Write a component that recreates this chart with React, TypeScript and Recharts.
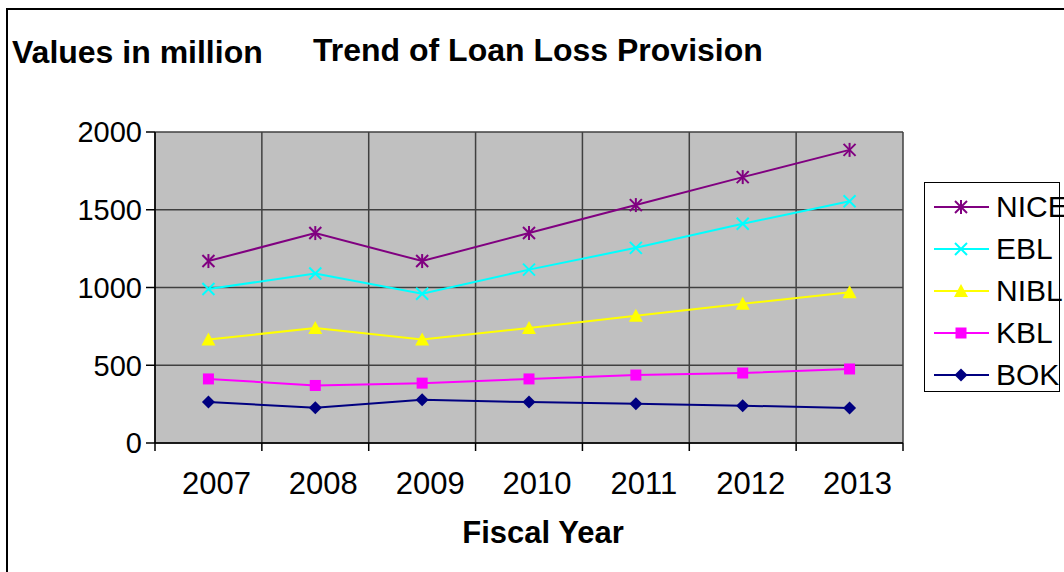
import React from 'react';
import { LineChart, Line, XAxis, YAxis, CartesianGrid, Legend } from 'recharts';

const years = ['2007', '2008', '2009', '2010', '2011', '2012', '2013'];
const nice = [1170, 1350, 1170, 1350, 1530, 1710, 1885];
const ebl = [990, 1090, 960, 1115, 1255, 1410, 1555];
const nibl = [665, 740, 665, 740, 818, 895, 970];
const kbl = [412, 370, 385, 412, 437, 450, 476];
const bok = [263, 227, 278, 263, 252, 240, 225];
const yTicks = [0, 500, 1000, 1500, 2000];

const FONT = '"Liberation Sans", Arial, sans-serif';

// x sits in the middle of each category slot, so grid lines fall on slot edges
const data = years.map((y, i) => ({
  x: i + 0.5,
  year: y,
  NICE: nice[i],
  EBL: ebl[i],
  NIBL: nibl[i],
  KBL: kbl[i],
  BOK: bok[i],
}));
const edgeTicks = years.map((_, i) => i).concat(years.length);
const midTicks = years.map((_, i) => i + 0.5);

type Shape = 'star' | 'x' | 'triangle' | 'square' | 'diamond';

const series: { key: string; color: string; shape: Shape }[] = [
  { key: 'NICE', color: '#800080', shape: 'star' },
  { key: 'EBL', color: '#00FFFF', shape: 'x' },
  { key: 'NIBL', color: '#FFFF00', shape: 'triangle' },
  { key: 'KBL', color: '#FF00FF', shape: 'square' },
  { key: 'BOK', color: '#000080', shape: 'diamond' },
];

const Marker = ({ cx, cy, color, shape }: { cx: number; cy: number; color: string; shape: Shape }) => {
  const r = 6;
  if (shape === 'star') {
    return (
      <g stroke={color} strokeWidth={2}>
        <line x1={cx - r} y1={cy - r} x2={cx + r} y2={cy + r} />
        <line x1={cx - r} y1={cy + r} x2={cx + r} y2={cy - r} />
        <line x1={cx} y1={cy - r - 1} x2={cx} y2={cy + r + 1} />
      </g>
    );
  }
  if (shape === 'x') {
    return (
      <g stroke={color} strokeWidth={2}>
        <line x1={cx - r} y1={cy - r} x2={cx + r} y2={cy + r} />
        <line x1={cx - r} y1={cy + r} x2={cx + r} y2={cy - r} />
      </g>
    );
  }
  if (shape === 'triangle') {
    return <polygon points={`${cx},${cy - 7} ${cx + 7},${cy + 6} ${cx - 7},${cy + 6}`} fill={color} />;
  }
  if (shape === 'square') {
    return <rect x={cx - 5.5} y={cy - 5.5} width={11} height={11} fill={color} />;
  }
  return <polygon points={`${cx},${cy - 6.5} ${cx + 6.5},${cy} ${cx},${cy + 6.5} ${cx - 6.5},${cy}`} fill={color} />;
};

const LegendBox = () => (
  <div
    style={{
      width: 136,
      height: 210,
      border: '1px solid #000',
      background: '#fff',
      boxSizing: 'border-box',
      paddingTop: 3,
    }}
  >
    {series.map((s) => (
      <div key={s.key} style={{ height: 42, display: 'flex', alignItems: 'center', whiteSpace: 'nowrap' }}>
        <svg width={72} height={20} style={{ flex: 'none', marginLeft: 8 }}>
          <line x1={1} y1={10} x2={56} y2={10} stroke={s.color} strokeWidth={2} />
          <Marker cx={28} cy={10} color={s.color} shape={s.shape} />
        </svg>
        <span style={{ fontFamily: FONT, fontSize: 30, color: '#000', marginLeft: -9 }}>{s.key}</span>
      </div>
    ))}
  </div>
);

export default function App() {
  return (
    <div style={{ position: 'absolute', left: 0, top: 0, width: 1064, height: 572, overflow: 'hidden', background: '#fff' }}>
      <div
        style={{
          position: 'absolute',
          left: 6,
          top: 8,
          width: 1200,
          height: 700,
          border: '2px solid #000',
        }}
      />
      <LineChart
        width={1064}
        height={572}
        data={data}
        margin={{ top: 132, right: 161, bottom: 70, left: 0 }}
        style={{ position: 'absolute', left: 0, top: 0 }}
      >
        <CartesianGrid xAxisId="grid" fill="#C0C0C0" stroke="#404040" strokeWidth={1.5} />
        <XAxis
          xAxisId="grid"
          dataKey="x"
          type="number"
          domain={[0, years.length]}
          ticks={edgeTicks}
          interval={0}
          tickFormatter={() => ''}
          tickSize={8}
          height={9}
          axisLine={{ stroke: '#000', strokeWidth: 1.5 }}
          tickLine={{ stroke: '#000', strokeWidth: 1.5 }}
        />
        <XAxis
          xAxisId="lab"
          dataKey="x"
          type="number"
          domain={[0, years.length]}
          ticks={midTicks}
          interval={0}
          tickFormatter={(v: number) => years[Math.floor(v)]}
          axisLine={false}
          tickLine={false}
          tickMargin={14}
          height={50}
          tick={{ fill: '#000', fontSize: 31, fontFamily: FONT, dx: 8 }}
        />
        <YAxis
          domain={[0, 2000]}
          ticks={yTicks}
          interval={0}
          width={155}
          tickSize={9}
          tickMargin={4}
          axisLine={{ stroke: '#000', strokeWidth: 1.5 }}
          tickLine={{ stroke: '#000', strokeWidth: 1.5 }}
          tick={{ fill: '#000', fontSize: 29, fontFamily: FONT }}
        />
        <Legend
          layout="vertical"
          align="center"
          verticalAlign="middle"
          content={<LegendBox />}
          wrapperStyle={{ left: 924, top: 182, width: 136, height: 210 }}
        />
        {series.map((s) => (
          <Line
            key={s.key}
            xAxisId="lab"
            dataKey={s.key}
            stroke={s.color}
            strokeWidth={2}
            isAnimationActive={false}
            dot={(p: any) => <Marker key={`${s.key}-${p.index}`} cx={p.cx} cy={p.cy} color={s.color} shape={s.shape} />}
            activeDot={false}
          />
        ))}
      </LineChart>
      <svg width={1064} height={572} style={{ position: 'absolute', left: 0, top: 0, pointerEvents: 'none' }}>
        <text x={12} y={63} fontFamily={FONT} fontWeight="bold" fontSize={32} fill="#000">
          Values in million
        </text>
        <text x={313} y={61} fontFamily={FONT} fontWeight="bold" fontSize={32} fill="#000">
          Trend of Loan Loss Provision
        </text>
        <text x={543} y={543} textAnchor="middle" fontFamily={FONT} fontWeight="bold" fontSize={31} fill="#000">
          Fiscal Year
        </text>
      </svg>
    </div>
  );
}
